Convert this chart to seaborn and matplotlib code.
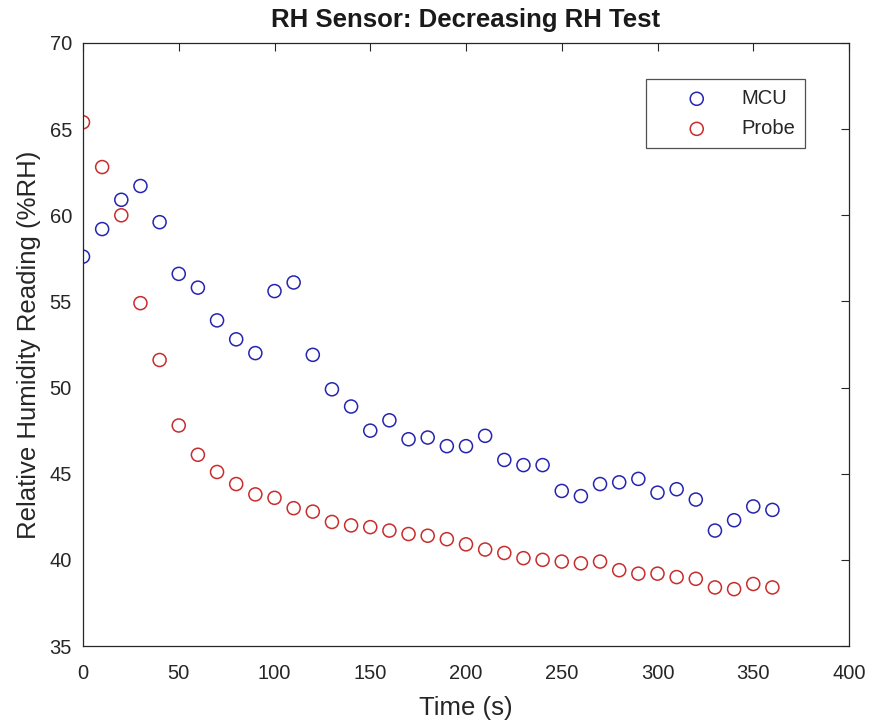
import numpy as np
import pandas as pd
import matplotlib
matplotlib.use("Agg")
import matplotlib.pyplot as plt
import seaborn as sns

time_s = [0, 10, 20, 30, 40, 50, 60, 70, 80, 90, 100, 110, 120, 130, 140, 150, 160, 170, 180,
          190, 200, 210, 220, 230, 240, 250, 260, 270, 280, 290, 300, 310, 320, 330, 340, 350, 360]
mcu = [57.6, 59.2, 60.9, 61.7, 59.6, 56.6, 55.8, 53.9, 52.8, 52.0, 55.6, 56.1, 51.9, 49.9, 48.9,
       47.5, 48.1, 47.0, 47.1, 46.6, 46.6, 47.2, 45.8, 45.5, 45.5, 44.0, 43.7, 44.4, 44.5, 44.7,
       43.9, 44.1, 43.5, 41.7, 42.3, 43.1, 42.9]
probe = [65.4, 62.8, 60.0, 54.9, 51.6, 47.8, 46.1, 45.1, 44.4, 43.8, 43.6, 43.0, 42.8, 42.2, 42.0,
         41.9, 41.7, 41.5, 41.4, 41.2, 40.9, 40.6, 40.4, 40.1, 40.0, 39.9, 39.8, 39.9, 39.4, 39.2,
         39.2, 39.0, 38.9, 38.4, 38.3, 38.6, 38.4]
series_names = ["MCU", "Probe"]
x_ticks = [0, 50, 100, 150, 200, 250, 300, 350, 400]
y_ticks = [35, 40, 45, 50, 55, 60, 65, 70]

df = pd.DataFrame({
    "Time": time_s * 2,
    "RH": mcu + probe,
    "Sensor": [series_names[0]] * len(mcu) + [series_names[1]] * len(probe),
})

sns.set_style("white")
plt.rcParams["font.family"] = ["Liberation Sans", "DejaVu Sans"]

W, H = 873, 728
L, R, T, B = 83, 849, 43, 646
fig = plt.figure(figsize=(W / 100, H / 100), dpi=100)
ax = fig.add_axes([L / W, 1 - B / H, (R - L) / W, (B - T) / H])

palette = {"MCU": "#2525b0", "Probe": "#c92c2c"}
for name in series_names:
    sub = df[df["Sensor"] == name]
    sns.scatterplot(data=sub, x="Time", y="RH", ax=ax, marker="o", s=88,
                    facecolors="none", edgecolor=palette[name], linewidth=1.1,
                    label=name)

ax.set_xlim(0, 400)
ax.set_ylim(35, 70)
ax.set_xticks(x_ticks)
ax.set_yticks(y_ticks)
ax.tick_params(direction="in", length=6, width=0.8, top=True, right=True,
               labelsize=14.5, colors="#262626")
ax.tick_params(axis="x", pad=13)
ax.tick_params(axis="y", pad=8)
ax.tick_params(labeltop=False, labelright=False)
for sp in ax.spines.values():
    sp.set_color("#262626")
    sp.set_linewidth(0.9)

ax.set_xlabel("Time (s)", fontsize=18.5, color="#262626", labelpad=9)
ax.set_ylabel("Relative Humidity Reading (%RH)", fontsize=18.5, color="#262626", labelpad=6)
ax.set_title("RH Sensor: Decreasing RH Test", fontsize=18.5, fontweight="bold",
             color="#1a1a1a", pad=11.5)

leg = ax.legend(loc="upper right",
                bbox_to_anchor=((805 - L) / (R - L), 1 - (79 - T) / (B - T)),
                bbox_transform=ax.transAxes, borderaxespad=0, frameon=True, fancybox=False,
                fontsize=14.5, handletextpad=0.2, borderpad=0.5, labelspacing=0.55,
                handlelength=4.0)
leg.get_frame().set_edgecolor("#262626")
leg.get_frame().set_linewidth(0.9)
for t in leg.get_texts():
    t.set_color("#262626")

fig.savefig("out.png", dpi=100, facecolor="white")
